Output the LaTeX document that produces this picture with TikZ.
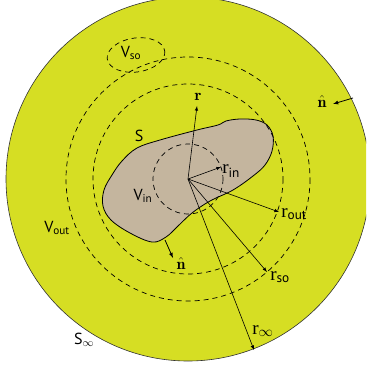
\documentclass[tikz,border=0pt]{standalone}
\usepackage{amsmath}
\usepackage{fontspec}
\setsansfont{PT Sans}
\newfontfamily\radfont{Liberation Serif}
\usepackage{xcolor}
\definecolor{field}{RGB}{214,222,35}
\definecolor{body}{RGB}{196,181,158}
\newcommand{\lowtxt}[1]{\textsubscript{\sffamily #1}}

\begin{document}
\begin{tikzpicture}[>=latex, x=1pt, y=-1pt, line width=0.6pt,
    every node/.style={font=\sffamily\fontsize{16}{16}\selectfont, inner sep=1pt},
    bnd/.style={dash pattern=on 5pt off 4pt, line width=0.7pt},
    tip/.style={anchor=west, font=\radfont\fontsize{19}{19}\selectfont}]
  \useasboundingbox (0,0) rectangle (366,366);
  \clip (0,0) rectangle (366,366);
  \coordinate (O) at (188,179);
  % Outer region
  \filldraw[fill=field, draw=black!80] (O) circle (182);
  % Body
  \filldraw[fill=body, draw=black, line width=0.8pt] plot[smooth cycle, tension=0.6] coordinates {
    (137,148) (160,140) (197,130) (218,125) (226,121) (240,119) (256,120)
    (267,125) (273,136) (272,151) (265,165) (253,176) (233,190) (210,201) (192,213)
    (178,226) (166,237) (152,242) (130,233) (111,220) (103,206) (104,190)
    (112,175) (122,161)};
  % Integration surfaces
  \draw[bnd] (O) circle (35);
  \draw[bnd] (O) circle (95);
  \draw[bnd] (O) circle (122);
  \draw[bnd, rotate around={8:(136,55)}] (136,55) ellipse [x radius=29, y radius=17];
  % Radius vectors
  \coordinate (rtip) at (197,106);
  \coordinate (rin) at (221,167);
  \coordinate (rout) at (279,212);
  \coordinate (rso) at (267,272);
  \coordinate (rinf) at (254,350);
  \draw[->] (O) -- (rtip);
  \draw[->] (O) -- (rin);
  \draw[->] (O) -- (rout);
  \draw[->] (O) -- (rso);
  \draw[->] (O) -- (rinf);
  % Normals
  \coordinate (nS) at (165,240);
  \coordinate (nStip) at (173,258);
  \coordinate (nInf) at (353,98);
  \coordinate (nInftip) at (333,104);
  \draw[->, line width=0.8pt] (nS) -- (nStip);
  \draw[->, line width=0.8pt] (nInf) -- (nInftip);
  % Labels
  \node (rlab) at (198,97) {\rmfamily$\mathbf{r}$};
  \node[tip] (rinlab) at (221,171) {r\lowtxt{in}};
  \node[tip] (routlab) at (280,214) {r\lowtxt{out}};
  \node[tip] (rsolab) at (269,277) {r\lowtxt{so}};
  \node[tip] (rinflab) at (251,331) {r\lowtxt{$\infty$}};
  \node (Slab) at (139,136) {S};
  \node (Vinlab) at (143,196) {V\lowtxt{in}};
  \node (Voutlab) at (57,228) {V\lowtxt{out}};
  \node (Vsolab) at (131,53) {V\lowtxt{so}};
  \node (Sinflab) at (84,340) {S\lowtxt{$\infty$}};
  \node (nSlab) at (181,263) {$\hat{\mathbf{n}}$};
  \node (nInflab) at (322,102) {$\hat{\mathbf{n}}$};
\end{tikzpicture}
\end{document}
